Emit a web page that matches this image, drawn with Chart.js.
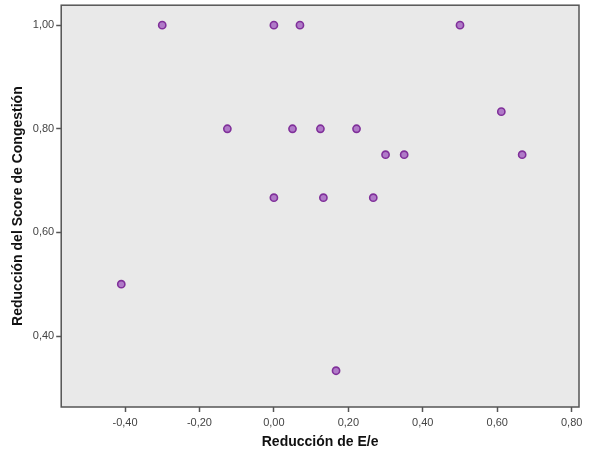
<!DOCTYPE html>
<html>
<head>
<meta charset="utf-8">
<script src="https://cdn.jsdelivr.net/npm/chart.js@4"></script>
<style>
html,body{margin:0;padding:0;background:#fff;}
#wrap{width:595px;height:452px;position:relative;}
</style>
</head>
<body>
<div id="wrap"><canvas id="c" width="595" height="452"></canvas></div>
<script>
// Data
const reduccionEe = [-0.41, -0.30, -0.125, 0.00, 0.07, 0.50, 0.00, 0.05, 0.125, 0.222, 0.30, 0.35, 0.133, 0.267, 0.167, 0.611, 0.667];
const reduccionScore = [0.50, 1.00, 0.80, 1.00, 1.00, 1.00, 0.667, 0.80, 0.80, 0.80, 0.75, 0.75, 0.667, 0.667, 0.333, 0.833, 0.75];
const xTicks = [-0.40, -0.20, 0.00, 0.20, 0.40, 0.60, 0.80];
const yTicks = [0.40, 0.60, 0.80, 1.00];
const xTitle = 'Reducción de E/e';
const yTitle = 'Reducción del Score de Congestión';

const points = reduccionEe.map((x, i) => ({x: x, y: reduccionScore[i]}));
const fmt = v => Number(v).toFixed(2).replace('.', ',');

const framePlugin = {
  id: 'frame',
  beforeDraw(chart) {
    const {ctx, chartArea: a} = chart;
    ctx.save();
    ctx.fillStyle = '#e9e9e9';
    ctx.fillRect(a.left, a.top, a.right - a.left, a.bottom - a.top);
    ctx.restore();
  },
  afterDatasetsDraw(chart) {
    const {ctx, chartArea: a} = chart;
    ctx.save();
    ctx.strokeStyle = '#555';
    ctx.lineWidth = 1.5;
    ctx.strokeRect(a.left, a.top, a.right - a.left, a.bottom - a.top);
    ctx.restore();
  }
};

Chart.defaults.font.family = '"Liberation Sans", Arial, sans-serif';

new Chart(document.getElementById('c'), {
  type: 'scatter',
  data: {
    datasets: [{
      data: points,
      backgroundColor: '#b07ac8',
      borderColor: '#80309a',
      borderWidth: 1.6,
      pointRadius: 3.6,
      pointHoverRadius: 3.6
    }]
  },
  options: {
    responsive: false,
    animation: false,
    events: [],
    layout: {padding: {left: 10, right: 16, top: 4, bottom: 1}},
    plugins: {legend: {display: false}, tooltip: {enabled: false}},
    scales: {
      x: {
        type: 'linear',
        min: -0.5714,
        max: 0.8197,
        afterBuildTicks: s => { s.ticks = xTicks.map(v => ({value: v})); },
        afterFit: s => { s.paddingLeft = 0; s.paddingRight = 0; },
        ticks: {callback: fmt, color: '#444', font: {size: 11}, padding: 4, maxRotation: 0, autoSkip: false},
        grid: {drawOnChartArea: false, drawTicks: true, tickLength: 5, tickColor: '#555', tickWidth: 1.5},
        border: {display: false},
        title: {display: true, text: xTitle, color: '#111', font: {size: 14, weight: 'bold'}, padding: {top: 1, bottom: 0}}
      },
      y: {
        type: 'linear',
        min: 0.263,
        max: 1.0385,
        afterBuildTicks: s => { s.ticks = yTicks.map(v => ({value: v})); },
        afterFit: s => { s.paddingTop = 0; s.paddingBottom = 0; },
        ticks: {callback: fmt, color: '#444', font: {size: 11}, padding: 2, autoSkip: false},
        grid: {drawOnChartArea: false, drawTicks: true, tickLength: 5, tickColor: '#555', tickWidth: 1.5},
        border: {display: false},
        title: {display: true, text: yTitle, color: '#111', font: {size: 14, weight: 'bold'}, padding: {top: 0, bottom: 4}}
      }
    }
  },
  plugins: [framePlugin]
});
</script>
</body>
</html>
